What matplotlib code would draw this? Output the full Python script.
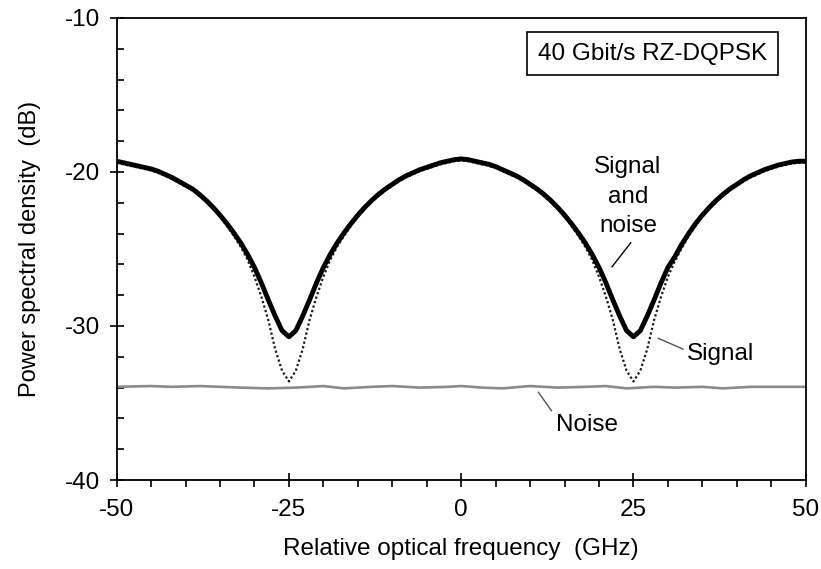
import matplotlib
matplotlib.use("Agg")
import matplotlib.pyplot as plt
from matplotlib.ticker import MultipleLocator

plt.rcParams['font.family'] = ['Liberation Sans', 'DejaVu Sans']
plt.rcParams['axes.unicode_minus'] = False

# ---- data ----
freq = list(range(-50, 51))   # GHz, 1 GHz steps

signal_and_noise = [
    -19.3, -19.4, -19.5, -19.6, -19.7, -19.8, -19.95, -20.15, -20.35, -20.6,
    -20.85, -21.1, -21.45, -21.85, -22.3, -22.8, -23.35, -23.95, -24.6, -25.35,
    -26.2, -27.2, -28.3, -29.35, -30.3, -30.7, -30.3, -29.35, -28.3, -27.2,
    -26.2, -25.35, -24.6, -23.95, -23.35, -22.8, -22.3, -21.85, -21.45, -21.1,
    -20.8, -20.5, -20.25, -20.05, -19.85, -19.7, -19.55, -19.4, -19.3, -19.2,
    -19.15,
    -19.2, -19.3, -19.4, -19.5, -19.65, -19.85, -20.05, -20.25, -20.5, -20.8,
    -21.1, -21.45, -21.85, -22.3, -22.8, -23.35, -23.95, -24.6, -25.35, -26.2,
    -27.2, -28.3, -29.35, -30.3, -30.7, -30.3, -29.35, -28.3, -27.2, -26.2,
    -25.5, -24.7, -24.0, -23.35, -22.8, -22.3, -21.85, -21.45, -21.1, -20.8,
    -20.5, -20.25, -20.05, -19.85, -19.7, -19.55, -19.45, -19.35, -19.3, -19.3]

signal = [
    -19.4, -19.5, -19.6, -19.7, -19.8, -19.9, -20.05, -20.25, -20.45, -20.7,
    -20.95, -21.2, -21.55, -21.95, -22.4, -22.9, -23.5, -24.15, -24.85, -25.7,
    -26.8, -28.1, -29.6, -31.5, -32.9, -33.6, -32.9, -31.5, -29.6, -28.1,
    -26.8, -25.7, -24.85, -24.15, -23.5, -22.9, -22.4, -21.95, -21.55, -21.2,
    -20.9, -20.6, -20.35, -20.15, -19.95, -19.8, -19.65, -19.5, -19.4, -19.3,
    -19.25,
    -19.3, -19.4, -19.5, -19.6, -19.75, -19.95, -20.15, -20.35, -20.6, -20.9,
    -21.2, -21.55, -21.95, -22.4, -22.9, -23.5, -24.15, -24.85, -25.7, -26.8,
    -28.1, -29.6, -31.5, -32.9, -33.6, -32.9, -31.5, -29.6, -28.1, -26.8,
    -25.8, -24.95, -24.15, -23.5, -22.9, -22.4, -21.95, -21.55, -21.2, -20.9,
    -20.6, -20.35, -20.15, -19.95, -19.8, -19.65, -19.55, -19.45, -19.4, -19.4]

noise_freq = [-50, -45, -42, -38, -35, -32, -28, -24, -20, -17, -13, -10, -6, -2, 0, 3,
              6, 10, 14, 18, 21, 24, 28, 31, 35, 38, 42, 46, 50]
noise = [-33.95, -33.9, -33.95, -33.9, -33.95, -34.0, -34.05, -34.0, -33.9, -34.05,
         -33.95, -33.9, -34.0, -33.95, -33.9, -34.0, -34.05, -33.9, -34.0, -33.95,
         -33.9, -34.05, -33.95, -34.0, -33.95, -34.05, -33.95, -33.95, -33.95]

box_label = "40 Gbit/s RZ-DQPSK"
xticks = [-50, -25, 0, 25, 50]
yticks = [-40, -30, -20, -10]

FS = 17.5

# ---- figure ----
fig = plt.figure(figsize=(8.21, 5.69), dpi=100)
ax = fig.add_axes([0.1421, 0.1564, 0.8393, 0.812])

ax.plot(noise_freq, noise, color='#8a8a8a', lw=1.9, zorder=2)
ax.plot(freq, signal, color='#1a1a1a', lw=1.6, linestyle=(0, (1, 1.1)), zorder=3)
ax.plot(freq, signal_and_noise, color='black', lw=3.5, solid_joinstyle='round',
        solid_capstyle='round', zorder=4)

ax.set_xlim(-50, 50)
ax.set_ylim(-40, -10)
ax.set_xticks(xticks)
ax.set_yticks(yticks)
ax.xaxis.set_minor_locator(MultipleLocator(5))
ax.yaxis.set_minor_locator(MultipleLocator(2))
ax.tick_params(axis='both', which='major', direction='inout', length=10, width=1.2,
               labelsize=FS, colors='black')
ax.tick_params(axis='x', which='minor', direction='out', length=5, width=1.2)
ax.tick_params(axis='y', which='minor', direction='in', length=5, width=1.2)
ax.tick_params(axis='x', which='major', pad=9)
ax.tick_params(axis='y', which='major', pad=7)
for s in ax.spines.values():
    s.set_linewidth(1.3)

ax.set_xlabel("Relative optical frequency  (GHz)", fontsize=FS, labelpad=12)
ax.set_ylabel("Power spectral density  (dB)", fontsize=17, labelpad=17)

ax.text(0.778, 0.923, box_label, transform=ax.transAxes, ha='center', va='center',
        fontsize=FS, bbox=dict(boxstyle='square,pad=0.45', fc='white', ec='black', lw=1.2))

ax.text(24.2, -21.6, "Signal\nand\nnoise", ha='center', va='center', fontsize=FS,
        linespacing=1.45)
ax.plot([24.6, 21.9], [-24.6, -26.15], color='black', lw=1.0)

ax.text(32.8, -31.8, "Signal", ha='left', va='center', fontsize=FS)
ax.plot([28.6, 32.2], [-30.8, -31.5], color='#555555', lw=1.0)

ax.text(18.3, -36.4, "Noise", ha='center', va='center', fontsize=FS)
ax.plot([11.2, 13.1], [-34.3, -35.5], color='#555555', lw=1.0)

fig.savefig("out.png", dpi=100)
